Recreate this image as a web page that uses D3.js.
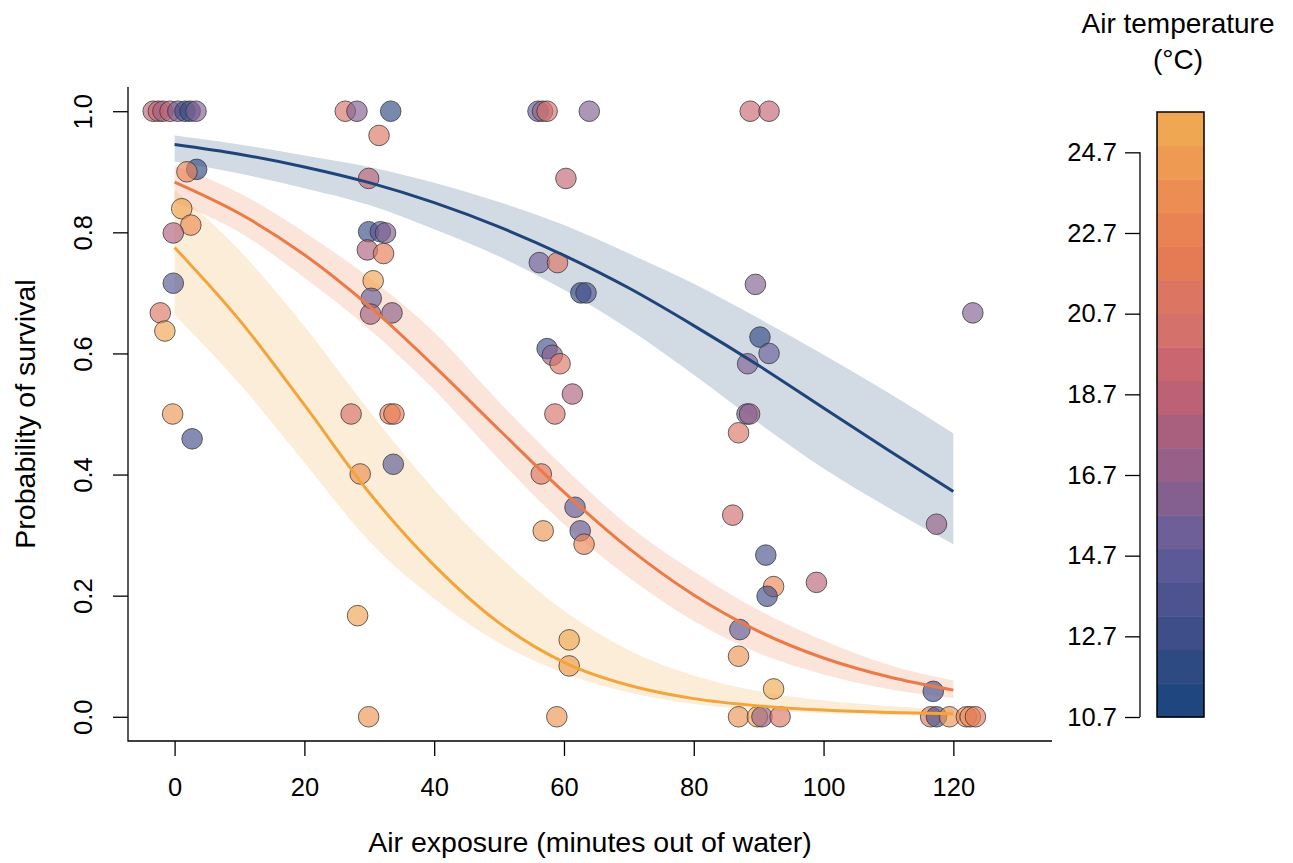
<!DOCTYPE html>
<html>
<head>
<meta charset="utf-8">
<script src="https://cdn.jsdelivr.net/npm/d3@7"></script>
<style>
  body { margin: 0; background: #fff; }
  svg { display: block; font-family: "Liberation Sans", Arial, sans-serif; }
  .axis text { font-size: 25.5px; fill: #000; }
  .axis line { stroke: #000; stroke-width: 1.3; }
</style>
</head>
<body>
<div id="chart"></div>
<script>

// minutes out of water, survival probability and air temperature of each point
var expo = [-3.3, -2.5, -1.8, -0.7, 0.5, 1.6, 2.4, 3.3,
    26.3, 28.1, 33.3, 31.5, 3.4, 1.9, 29.9, 1.1, 2.5, -0.2, 29.9, 31.7, 32.5, 29.7, 32.2,
    -0.2, 30.6, 30.3, 30.2, 33.5, -2.2, -1.5, -0.3, 2.7, 27.2, 33.2, 33.8, 33.7, 28.6, 28.2, 29.9,
    56.0, 56.7, 57.4, 63.9, 60.3, 56.2, 59.0, 62.6, 63.4, 57.4, 58.2, 59.4, 61.3, 58.6, 56.5,
    61.7, 62.5, 63.1, 56.8, 60.8, 60.8, 58.9,
    88.7, 91.6, 89.5, 123.0, 90.2, 91.6, 88.3, 88.2, 88.6, 86.9, 86.0, 117.4, 91.1, 98.9, 92.3,
    91.3, 87.1, 86.9, 92.3, 116.9,
    86.9, 89.8, 90.5, 93.3, 116.5, 117.4, 119.4, 122.0, 122.6, 123.4];
var surv = [1, 1, 1, 1, 1, 1, 1, 1,
    1, 1, 1, 0.96, 0.904, 0.90, 0.889, 0.839, 0.812, 0.799, 0.801, 0.801, 0.799, 0.771, 0.765,
    0.716, 0.72, 0.691, 0.665, 0.667, 0.667, 0.637, 0.5, 0.459, 0.5, 0.5, 0.5, 0.417, 0.401, 0.167, 0,
    1, 1, 1, 1, 0.889, 0.75, 0.75, 0.70, 0.70, 0.608, 0.597, 0.583, 0.533, 0.5, 0.401,
    0.346, 0.307, 0.285, 0.307, 0.127, 0.084, 0,
    1, 1, 0.714, 0.667, 0.627, 0.60, 0.583, 0.5, 0.5, 0.469, 0.333, 0.318, 0.267, 0.222, 0.215,
    0.199, 0.144, 0.10, 0.046, 0.042,
    0, 0, 0, 0, 0, 0, 0, 0, 0, 0];
var temp = [18.5, 19.5, 17.5, 19.0, 15.5, 13.0, 12.5, 16.0,
    20.5, 16.0, 12.0, 21.0, 12.0, 22.5, 18.5, 25.0, 23.5, 18.0, 12.5, 14.0, 16.0, 18.0, 22.0,
    14.0, 25.0, 15.0, 17.5, 16.5, 21.0, 25.0, 24.0, 13.0, 20.5, 22.5, 22.0, 14.5, 23.5, 25.0, 24.0,
    14.5, 17.0, 20.5, 16.0, 19.0, 15.5, 21.0, 12.0, 13.5, 13.0, 16.5, 21.0, 18.0, 20.5, 21.0,
    14.5, 14.5, 23.0, 24.0, 25.5, 24.5, 24.0,
    19.5, 19.0, 16.0, 16.0, 12.0, 15.0, 16.0, 15.0, 17.0, 21.0, 20.0, 17.0, 13.5, 18.5, 23.0,
    13.0, 14.5, 24.0, 25.5, 13.0,
    24.0, 25.5, 17.0, 21.0, 21.0, 13.5, 24.0, 23.0, 23.5, 21.5];

// fitted curves read at every 10 minutes
var minutes = [0, 10, 20, 30, 40, 50, 60, 70, 80, 90, 100, 110, 120];
var coldFit = [0.945, 0.929, 0.908, 0.882, 0.849, 0.809, 0.762, 0.708, 0.646, 0.58, 0.51, 0.44, 0.372];
var coldLo = [0.917, 0.897, 0.873, 0.845, 0.805, 0.76, 0.705, 0.64, 0.565, 0.485, 0.41, 0.345, 0.285];
var coldHi = [0.960, 0.945, 0.927, 0.908, 0.882, 0.85, 0.812, 0.765, 0.715, 0.658, 0.598, 0.535, 0.468];
var midFit = [0.883, 0.831, 0.763, 0.678, 0.579, 0.474, 0.371, 0.278, 0.201, 0.141, 0.097, 0.066, 0.044];
var midLo = [0.85, 0.80, 0.725, 0.64, 0.54, 0.425, 0.318, 0.23, 0.158, 0.105, 0.07, 0.046, 0.031];
var midHi = [0.91, 0.865, 0.80, 0.725, 0.635, 0.52, 0.412, 0.315, 0.24, 0.176, 0.126, 0.086, 0.06];
var hotFit = [0.775, 0.655, 0.515, 0.37, 0.25, 0.155, 0.09, 0.052, 0.03, 0.018, 0.011, 0.007, 0.005];
var hotLo = [0.664, 0.55, 0.42, 0.29, 0.195, 0.122, 0.072, 0.04, 0.021, 0.011, 0.006, 0.003, 0.0015];
var hotHi = [0.87, 0.77, 0.645, 0.505, 0.375, 0.265, 0.175, 0.11, 0.068, 0.042, 0.027, 0.018, 0.012];

var xTicks = [0, 20, 40, 60, 80, 100, 120];
var yTicks = [0, 0.2, 0.4, 0.6, 0.8, 1.0];
var tempTicks = [10.7, 12.7, 14.7, 16.7, 18.7, 20.7, 22.7, 24.7];
var tempRange = [10.7, 25.7];
// colour bar bands, bottom to top
var bandColors = ["#1f467e", "#2e4a83", "#3e4e89", "#4c538f", "#5b5a96", "#6e5f98",
    "#83608f", "#966088", "#a8607e", "#bd6276", "#c9666f", "#d4716a",
    "#dc7561", "#e57b55", "#ea8354", "#ec8e53", "#ee9a52", "#efa851"];

var width = 1293, height = 863;
var svg = d3.select("#chart").append("svg")
    .attr("width", width)
    .attr("height", height);

var x = d3.scaleLinear().domain([-7.18, 135.2]).range([128, 1052]);
var y = d3.scaleLinear().domain([-0.04, 1.04]).range([741, 87]);

var nb = bandColors.length;
var bandStep = (tempRange[1] - tempRange[0]) / nb;
var color = d3.scaleLinear()
    .domain(bandColors.map(function(c, i) { return tempRange[0] + bandStep * (i + 0.5); }))
    .range(bandColors)
    .clamp(true);

var fits = [
    { fit: coldFit, lo: coldLo, hi: coldHi, col: "#1f4479" },
    { fit: midFit, lo: midLo, hi: midHi, col: "#ec7a48" },
    { fit: hotFit, lo: hotLo, hi: hotHi, col: "#f2a53a" }
];

var area = function(f) {
    return d3.area()
        .x(function(d, i) { return x(minutes[i]); })
        .y0(function(d, i) { return y(f.lo[i]); })
        .y1(function(d, i) { return y(f.hi[i]); })
        .curve(d3.curveMonotoneX)(minutes);
};
var line = function(f) {
    return d3.line()
        .x(function(d, i) { return x(minutes[i]); })
        .y(function(d, i) { return y(f.fit[i]); })
        .curve(d3.curveMonotoneX)(minutes);
};

svg.append("g").selectAll("path")
    .data(fits)
    .enter().append("path")
    .attr("d", area)
    .attr("fill", function(d) { return d.col; })
    .attr("fill-opacity", 0.2);

var pts = expo.map(function(d, i) { return { x: d, y: surv[i], t: temp[i] }; });
svg.append("g").selectAll("circle")
    .data(pts)
    .enter().append("circle")
    .attr("cx", function(d) { return x(d.x); })
    .attr("cy", function(d) { return y(d.y); })
    .attr("r", 10.3)
    .attr("fill", function(d) { return color(d.t); })
    .attr("fill-opacity", 0.65)
    .attr("stroke", "#333")
    .attr("stroke-opacity", 0.75)
    .attr("stroke-width", 1);

svg.append("g").selectAll("path")
    .data(fits)
    .enter().append("path")
    .attr("d", line)
    .attr("fill", "none")
    .attr("stroke", function(d) { return d.col; })
    .attr("stroke-width", 3);

// L-shaped box
svg.append("path")
    .attr("d", "M" + x.range()[0] + "," + y.range()[1] + "V" + y.range()[0] + "H" + x.range()[1])
    .attr("fill", "none")
    .attr("stroke", "#000")
    .attr("stroke-width", 1.3);

var gx = svg.append("g").attr("class", "axis")
    .attr("transform", "translate(0," + y.range()[0] + ")")
    .call(d3.axisBottom(x).tickValues(xTicks).tickSize(15).tickPadding(22).tickFormat(d3.format("d")));
gx.select(".domain").remove();

var gy = svg.append("g").attr("class", "axis")
    .attr("transform", "translate(" + x.range()[0] + ",0)")
    .call(d3.axisLeft(y).tickValues(yTicks).tickSize(15).tickFormat(d3.format(".1f")));
gy.select(".domain").remove();
gy.selectAll("text")
    .attr("transform", "rotate(-90)")
    .attr("x", 0)
    .attr("y", -45)
    .attr("dy", "0.35em")
    .style("text-anchor", "middle");

svg.append("text")
    .attr("x", (x.range()[0] + x.range()[1]) / 2)
    .attr("y", 852)
    .attr("text-anchor", "middle")
    .style("font-size", "28.5px")
    .text("Air exposure (minutes out of water)");

svg.append("text")
    .attr("transform", "translate(34.5," + (y.range()[0] + y.range()[1]) / 2 + ") rotate(-90)")
    .attr("text-anchor", "middle")
    .style("font-size", "28.5px")
    .text("Probability of survival");

// colour bar
var ty = d3.scaleLinear().domain(tempRange).range([717, 112]);
var bar = svg.append("g");
bar.selectAll("rect")
    .data(bandColors)
    .enter().append("rect")
    .attr("x", 1157)
    .attr("width", 47)
    .attr("y", function(d, i) { return ty(tempRange[0] + bandStep * (i + 1)); })
    .attr("height", function(d, i) { return ty(tempRange[0] + bandStep * i) - ty(tempRange[0] + bandStep * (i + 1)) + 0.5; })
    .attr("fill", function(d) { return d; });
bar.append("rect")
    .attr("x", 1157).attr("y", ty(tempRange[1]))
    .attr("width", 47).attr("height", ty(tempRange[0]) - ty(tempRange[1]))
    .attr("fill", "none").attr("stroke", "#000").attr("stroke-width", 1.5);

var gt = svg.append("g").attr("class", "axis")
    .attr("transform", "translate(1140,0)")
    .call(d3.axisLeft(ty).tickValues(tempTicks).tickSize(15).tickPadding(8).tickFormat(d3.format(".1f")));
gt.select(".domain").remove();
gt.append("line")
    .attr("y1", ty(tempTicks[0])).attr("y2", ty(tempTicks[tempTicks.length - 1]))
    .attr("stroke", "#000").attr("stroke-width", 1.3);

svg.append("text")
    .attr("x", 1178).attr("y", 33)
    .attr("text-anchor", "middle")
    .style("font-size", "28px")
    .text("Air temperature");
svg.append("text")
    .attr("x", 1178).attr("y", 69)
    .attr("text-anchor", "middle")
    .style("font-size", "28px")
    .text("(°C)");

</script>
</body>
</html>
